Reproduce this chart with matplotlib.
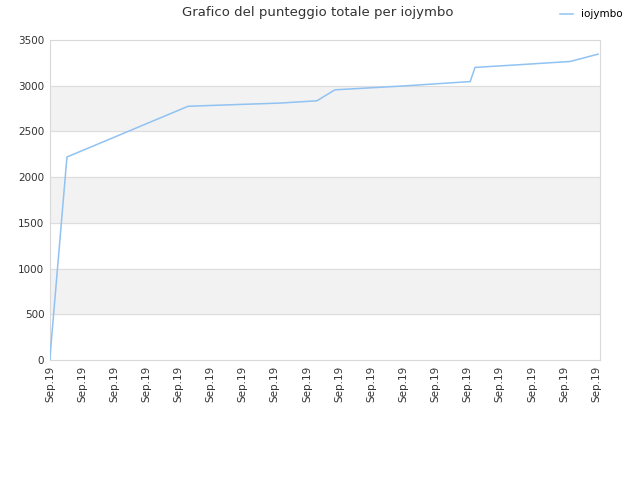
import numpy as np
import matplotlib
matplotlib.use("Agg")
import matplotlib.pyplot as plt

# time positions (in tick units) and total score
times = [0.0, 0.03, 0.53, 4.30, 5.92, 7.16, 8.31, 8.87, 10.90, 13.08, 13.23, 14.63, 16.19, 17.06]
scores = [0, 150, 2220, 2775, 2795, 2810, 2835, 2955, 2995, 3045, 3200, 3230, 3265, 3345]
tick_labels = ["Sep.19"] * 18
player = "iojymbo"

fig = plt.figure(figsize=(6.4, 4.8), dpi=100)
ax = fig.add_axes([0.078, 0.25, 0.8595, 0.6667])

for lo in range(500, 3500, 1000):
    ax.axhspan(lo, lo + 500, color="#f2f2f2", zorder=0)
for y in range(500, 3500, 500):
    ax.axhline(y, color="#dddddd", lw=0.8, zorder=1)

ax.plot(times, scores, color="#90c2f2", lw=1.1, label=player, zorder=3)

ax.set_xlim(0, 17.12)
ax.set_ylim(0, 3500)
ax.set_yticks(range(0, 3501, 500))
ax.set_xticks(range(18))
ax.set_xticklabels(tick_labels, rotation=90)
ax.tick_params(length=0, labelsize=7.5, labelcolor="#333333", pad=4)
for s in ax.spines.values():
    s.set_color("#d9d9d9")

fig.suptitle("Grafico del punteggio totale per iojymbo", x=0.497, y=0.988,
             fontsize=9.5, color="#333333")
fig.legend(loc="upper right", bbox_to_anchor=(0.988, 1.0), frameon=False,
           fontsize=7.5, handlelength=1.2)

fig.savefig("out.png")
